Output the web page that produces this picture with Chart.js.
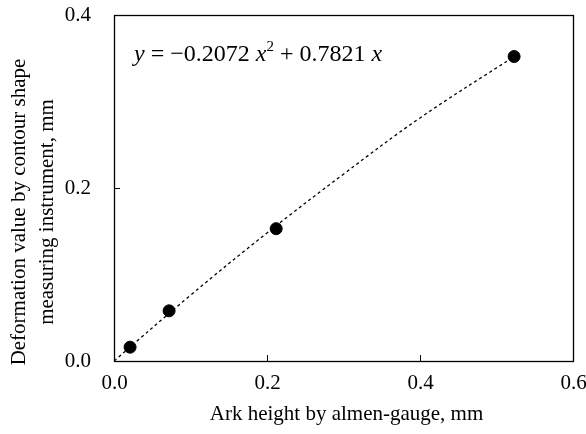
<!DOCTYPE html>
<html><head><meta charset="utf-8">
<script src="https://cdn.jsdelivr.net/npm/chart.js@4"></script>
<style>html,body{margin:0;padding:0;background:#fff}#wrap{width:586px;height:434px}</style>
</head><body><div id="wrap"><canvas id="c" width="586" height="434"></canvas></div>
<script>
const arcHeight = [0.021, 0.072, 0.212, 0.523];
const deformation = [0.016, 0.058, 0.153, 0.352];
const trendX = [0, 0.1, 0.2, 0.3, 0.4, 0.523];
const trendY = [0, 0.076, 0.148, 0.216, 0.281, 0.352];
const xTicks = [0, 0.2, 0.4, 0.6];
const yTicks = [0, 0.2, 0.4];
const xTitle = 'Ark height by almen-gauge, mm';
const yTitle = ['Deformation value by contour shape', 'measuring instrument, mm'];

const FONT = '"Liberation Serif", "Times New Roman", serif';

const framePlugin = {
  id: 'frame',
  afterDraw(chart) {
    const ctx = chart.ctx, a = chart.chartArea;
    const xs = chart.scales.x, ys = chart.scales.y;
    ctx.save();
    ctx.strokeStyle = '#000';
    ctx.lineWidth = 1.3;
    ctx.strokeRect(Math.round(a.left) + 0.5, Math.round(a.top) + 0.5, Math.round(a.right - a.left), Math.round(a.bottom - a.top));
    ctx.lineWidth = 1;
    ctx.fillStyle = '#000';
    ctx.font = '21px ' + FONT;
    ctx.textBaseline = 'middle';
    ctx.textAlign = 'center';
    xTicks.forEach(v => {
      const px = Math.round(xs.getPixelForValue(v)) + 0.5;
      ctx.beginPath(); ctx.moveTo(px, a.bottom); ctx.lineTo(px, a.bottom - 6); ctx.stroke();
      ctx.fillText(v.toFixed(1), px, a.bottom + 22);
    });
    ctx.textAlign = 'right';
    yTicks.forEach(v => {
      const py = Math.round(ys.getPixelForValue(v)) + 0.5;
      ctx.beginPath(); ctx.moveTo(a.left, py); ctx.lineTo(a.left + 6, py); ctx.stroke();
      ctx.fillText(v.toFixed(1), 91, py);
    });
    // titles
    ctx.font = '21px ' + FONT;
    ctx.textAlign = 'center';
    ctx.textBaseline = 'alphabetic';
    ctx.fillText(xTitle, (a.left + a.right) / 2 + 3, 420);
    ctx.save();
    ctx.translate(0, 212);
    ctx.rotate(-Math.PI / 2);
    ctx.textBaseline = 'middle';
    ctx.fillText(yTitle[0], 0, 19);
    ctx.fillText(yTitle[1], 0, 47);
    ctx.restore();
    // equation
    let x = 134; const yb = 61;
    ctx.textAlign = 'left';
    ctx.textBaseline = 'alphabetic';
    const parts = [
      ['italic 24px ' + FONT, 'y', 0],
      ['24px ' + FONT, ' = \u22120.2072 ', 0],
      ['italic 24px ' + FONT, 'x', 0],
      ['15px ' + FONT, '2', -10],
      ['24px ' + FONT, ' + 0.7821 ', 0],
      ['italic 24px ' + FONT, 'x', 0]
    ];
    parts.forEach(([f, t, dy]) => {
      ctx.font = f;
      ctx.fillText(t, x, yb + dy);
      x += ctx.measureText(t).width;
    });
    ctx.restore();
  }
};

new Chart(document.getElementById('c'), {
  type: 'scatter',
  data: {
    datasets: [
      {
        data: arcHeight.map((v, i) => ({x: v, y: deformation[i]})),
        backgroundColor: '#000', borderColor: '#000',
        pointRadius: 6, pointHoverRadius: 6, order: 1
      },
      {
        type: 'line',
        data: trendX.map((v, i) => ({x: v, y: trendY[i]})),
        borderColor: '#000', borderWidth: 1.3, borderDash: [3, 3],
        pointRadius: 0, fill: false, tension: 0.4, order: 2
      }
    ]
  },
  options: {
    responsive: false, animation: false,
    devicePixelRatio: 1,
    layout: {padding: {top: 15, right: 13, left: 0, bottom: 0}},
    plugins: {legend: {display: false}, tooltip: {enabled: false}},
    scales: {
      x: {
        type: 'linear', min: 0, max: 0.6,
        afterBuildTicks: s => { s.ticks = xTicks.map(v => ({value: v})); },
        afterFit: s => { s.height = 73; },
        grid: {display: false, drawTicks: false},
        border: {display: false},
        ticks: {display: false}
      },
      y: {
        type: 'linear', min: 0, max: 0.4,
        afterBuildTicks: s => { s.ticks = yTicks.map(v => ({value: v})); },
        afterFit: s => { s.width = 114; },
        grid: {display: false, drawTicks: false},
        border: {display: false},
        ticks: {display: false}
      }
    }
  },
  plugins: [framePlugin]
});
</script>
</body></html>
